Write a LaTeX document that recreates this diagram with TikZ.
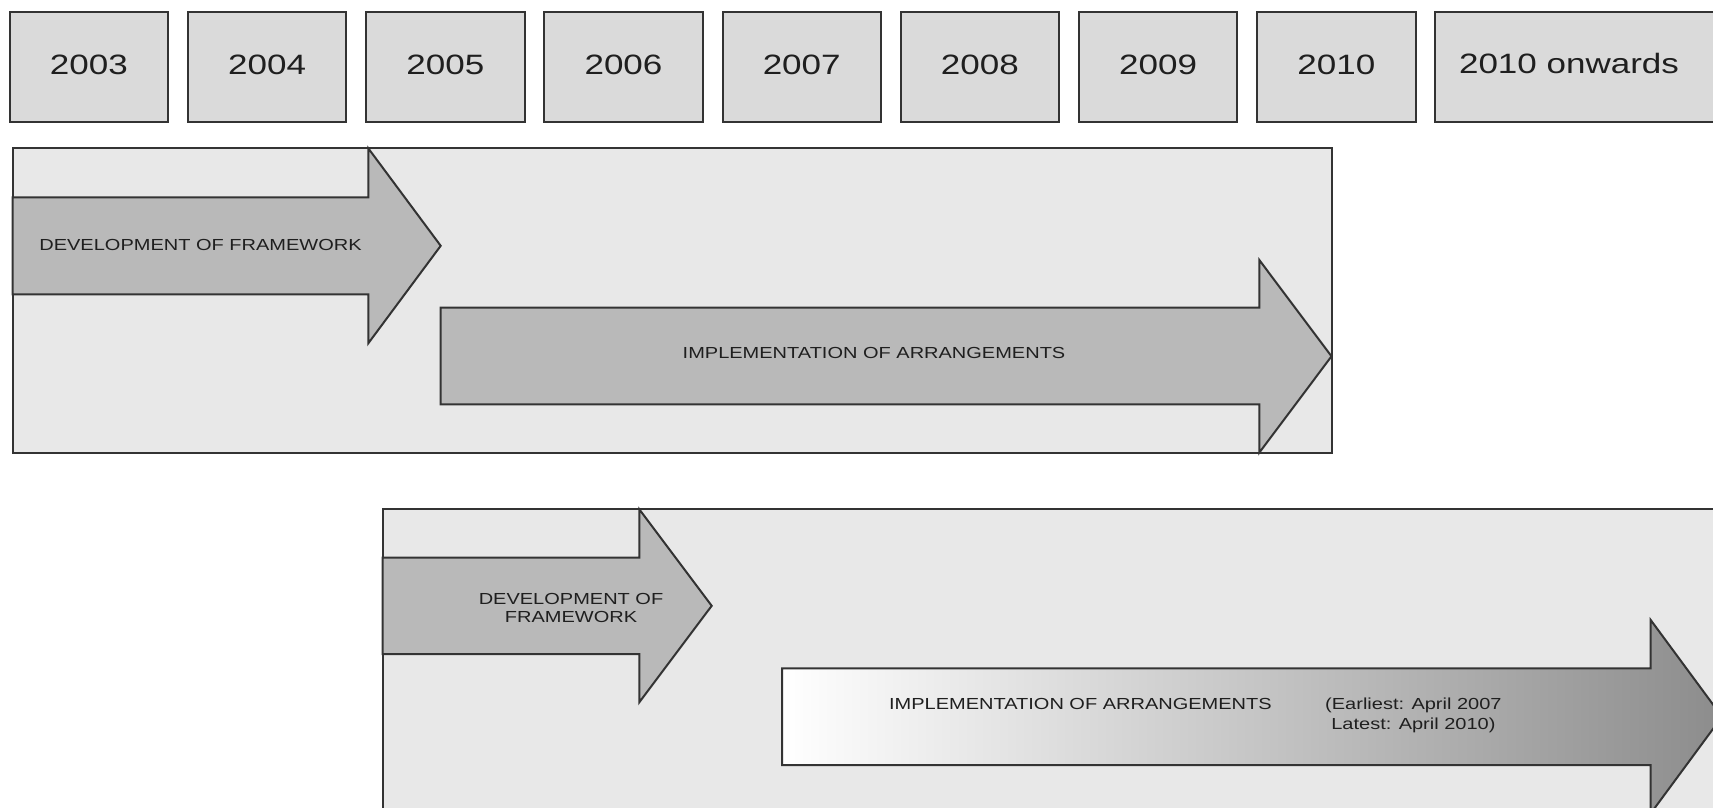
\documentclass[tikz,border=0pt]{standalone}
\usepackage{fontspec}
\setmainfont{Liberation Sans}
\newfontfamily\lblfont[FakeStretch=1.25]{Liberation Sans}
\definecolor{yearfill}{gray}{0.855}
\definecolor{panelfill}{gray}{0.91}
\definecolor{arrowfill}{gray}{0.725}
\definecolor{edgecol}{gray}{0.2}
\definecolor{txtcol}{gray}{0.12}
\begin{document}
\begin{tikzpicture}[x=0.5pt,y=-0.5pt,
  yearbox/.style={draw=edgecol, line width=1pt, fill=yearfill, minimum width=79.2pt,
    minimum height=55pt, inner sep=0pt, anchor=north west, text depth=2.3pt,
    font=\lblfont\fontsize{14}{16}\selectfont, text=txtcol},
  yeartext/.style={font=\lblfont\fontsize{14}{16}\selectfont, text=txtcol, inner sep=0pt},
  panel/.style={draw=edgecol, line width=1pt, fill=panelfill},
  arrowshape/.style={draw=edgecol, line width=1pt, fill=arrowfill, line join=miter},
  lbl/.style={font=\lblfont\fontsize{8}{9.75}\selectfont, text=txtcol, inner sep=0pt, anchor=base}]
\path[use as bounding box, fill=white] (0,0) rectangle (1713,808);
\clip (0,0) rectangle (1713,808);

% year boxes
\foreach \yr [count=\i from 0] in {2003,...,2010}
  \node[yearbox] (y\yr) at ({8.7+178.2*\i},11) {\yr};
\node[yearbox, minimum width=142.85pt] (yon) at (1434.3,11) {};
\node[yeartext] (yontext) at (1569,63.7) {2010 onwards};

% upper panel
\draw[panel] (12.7,148.3) rectangle (1331.7,453.3);
\draw[arrowshape] (12.7,197.3) -- (368.3,197.3) -- (368.3,148.3) -- (440.7,245.8)
  -- (368.3,343.3) -- (368.3,294.3) -- (12.7,294.3) -- cycle;
\draw[arrowshape] (440.7,307.7) -- (1259.3,307.7) -- (1259.3,260) -- (1331.5,356.3)
  -- (1259.3,452.6) -- (1259.3,404.3) -- (440.7,404.3) -- cycle;
\node[lbl] (dev1) at (200.5,250.8) {DEVELOPMENT OF FRAMEWORK};
\node[lbl] (impl1) at (874,358.2) {IMPLEMENTATION OF ARRANGEMENTS};

% lower panel
\draw[panel] (382.7,509.3) rectangle (1730,830);
\draw[arrowshape] (382.7,557.7) -- (639.3,557.7) -- (639.3,509.3) -- (711.7,605.8)
  -- (639.3,702.3) -- (639.3,654) -- (382.7,654) -- cycle;
\draw[arrowshape, left color=white, right color=black!45] (782,668.3) -- (1650.7,668.3)
  -- (1650.7,620) -- (1722,716.7) -- (1650.7,813.4) -- (1650.7,765) -- (782,765) -- cycle;
\node[lbl] (dev2a) at (571,604.2) {DEVELOPMENT OF};
\node[lbl] (dev2b) at (571,622.7) {FRAMEWORK};
\node[lbl] (impl2) at (1080.4,709.7) {IMPLEMENTATION OF ARRANGEMENTS};
\node[lbl] (early) at (1413.4,709.7) {(Earliest: April 2007};
\node[lbl] (late) at (1413.4,729.2) {Latest: April 2010)};
\end{tikzpicture}
\end{document}
